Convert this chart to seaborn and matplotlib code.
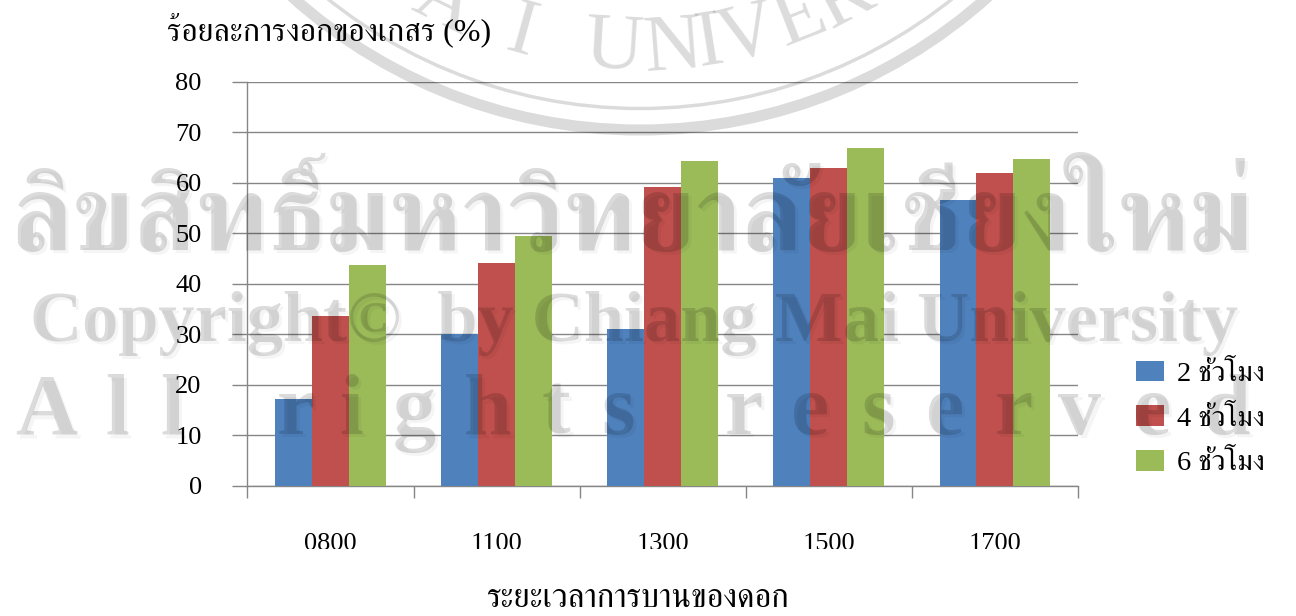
import math
import matplotlib
matplotlib.use("Agg")
import matplotlib.pyplot as plt
from matplotlib.patches import Circle
from matplotlib.transforms import Bbox
import pandas as pd
import seaborn as sns

# Germination data: percent germinated per flower-opening time and storage duration
times = ["0800", "1100", "1300", "1500", "1700"]
hours_2 = [17.2, 30.0, 31.0, 61.0, 56.6]
hours_4 = [33.6, 44.2, 59.2, 63.0, 62.0]
hours_6 = [43.8, 49.5, 64.4, 66.9, 64.8]
series_names = ["2 ชั่วโมง", "4 ชั่วโมง", "6 ชั่วโมง"]
series_colors = ["#4F81BD", "#C0504D", "#9BBB59"]
y_ticks = [0, 10, 20, 30, 40, 50, 60, 70, 80]

title_text = "ร้อยละการงอกของเกสร (%)"
xlabel_text = "ระยะเวลาการบานของดอก"
thai_mark = "ลิขสิทธิ์มหาวิทยาลัยเชียงใหม่"
copyright_mark = "Copyright©  by Chiang Mai University"

# Letters of the rights line with their horizontal centres in pixels
rights_letters = list("Allrightsreserved")
rights_x = [46, 117, 172, 296, 351, 414, 488, 556, 618, 744, 810, 878, 945, 1014, 1080, 1152, 1226]

# Seal letters with their horizontal centres in pixels
seal_letters = list("MAIUNIVERS")
seal_x = [360, 435, 516, 612, 675, 712, 752, 808, 855, 905]

FIG_W, FIG_H = 1296, 616
GRAY = "#868686"

sns.set_theme(style="white")
plt.rcParams["font.family"] = ["Liberation Serif", "FreeSerif", "DejaVu Sans"]

df = pd.DataFrame({
    "time": times * 3,
    "series": [n for n in series_names for _ in times],
    "value": hours_2 + hours_4 + hours_6,
})

fig = plt.figure(figsize=(FIG_W / 100, FIG_H / 100), dpi=100, facecolor="white")
ax = fig.add_axes([247.5 / FIG_W, (FIG_H - 485.7) / FIG_H, 830.5 / FIG_W, 403.7 / FIG_H])

sns.barplot(data=df, x="time", y="value", hue="series", order=times, hue_order=series_names,
            palette=series_colors, saturation=1, width=0.667, gap=0, linewidth=0, ax=ax, zorder=3)

ax.set_xlim(-0.5, 4.5)
ax.set_ylim(0, 80)
ax.set_xlabel("")
ax.set_ylabel("")
ax.set_yticks(y_ticks)
ax.yaxis.grid(True, color=GRAY, linewidth=1.0, zorder=0)
ax.xaxis.grid(False)
ax.set_axisbelow(True)
for side in ("top", "right"):
    ax.spines[side].set_visible(False)
for side in ("left", "bottom"):
    ax.spines[side].set_color(GRAY)
    ax.spines[side].set_linewidth(1.0)

ax.set_xticks(range(len(times)))
ax.set_xticklabels(times)
ax.set_xticks([i - 0.5 for i in range(len(times) + 1)], minor=True)
ax.tick_params(axis="x", which="major", bottom=True, length=0, pad=34, labelsize=19, labelcolor="black")
ax.tick_params(axis="x", which="minor", bottom=True, length=8.3, width=1.0, color=GRAY)
ax.tick_params(axis="y", left=True, length=11, width=1.0, color=GRAY, pad=22, labelsize=19, labelcolor="black")

# The hour labels are cut along their lower edge
label_clip = Bbox([[0, FIG_H - 549], [FIG_W, FIG_H]])
for lab in ax.get_xticklabels():
    lab.set_clip_on(True)
    lab.set_clip_box(label_clip)

fig.text(167 / FIG_W, (FIG_H - 40) / FIG_H, title_text, fontsize=23, color="black", va="baseline")
fig.text(638 / FIG_W, (FIG_H - 607) / FIG_H, xlabel_text, fontsize=23.5, color="black",
         ha="center", va="baseline")

handles = ax.get_legend_handles_labels()[0]
ax.legend(handles, series_names, loc="upper left",
          bbox_to_anchor=(1127.5 / FIG_W, (FIG_H - 352) / FIG_H), bbox_transform=fig.transFigure,
          frameon=False, fontsize=20.5, handlelength=0.98, handleheight=0.74, borderaxespad=0,
          labelspacing=0.65, handletextpad=0.46, borderpad=0.3, labelcolor="black")

# Translucent ownership marks printed over the whole chart
over = fig.add_axes([0, 0, 1, 1], zorder=10)
over.set_xlim(0, FIG_W)
over.set_ylim(FIG_H, 0)
over.axis("off")
over.patch.set_alpha(0)
INK = dict(color="black", alpha=0.14)
SHADE = dict(color="black", alpha=0.04)


def fit_width(artist, target):
    renderer = fig.canvas.get_renderer()
    width = artist.get_window_extent(renderer).width
    return artist.get_fontsize() * target / width


def banner(text, x0, x1, baseline, weight):
    probe = over.text(x0, baseline, text, fontsize=60, weight=weight, **INK)
    size = fit_width(probe, x1 - x0)
    probe.set_fontsize(size)
    over.text(x0 + 3, baseline + 3, text, fontsize=size, weight=weight, **SHADE)


banner(thai_mark, 10, 1255, 250, "bold")
banner(copyright_mark, 30, 1240, 341, "bold")

for ch, cx in zip(rights_letters, rights_x):
    over.text(cx, 434, ch, fontsize=62, weight="bold", ha="center", va="baseline", **INK)
    over.text(cx + 3, 437, ch, fontsize=62, weight="bold", ha="center", va="baseline", **SHADE)

# Seal across the top edge: two rings and letters following the curve
seal_cx, seal_cy = 640, -391
over.add_patch(Circle((seal_cx, seal_cy), 521, fill=False, lw=8, ec="black", alpha=0.14))
over.add_patch(Circle((seal_cx, seal_cy), 499.5, fill=False, lw=2.5, ec="black", alpha=0.14))
for ch, cx in zip(seal_letters, seal_x):
    angle = math.asin((cx - seal_cx) / 461)
    px = seal_cx + 461 * math.sin(angle)
    py = seal_cy + 461 * math.cos(angle)
    over.text(px, py, ch, fontsize=58, ha="center", va="baseline", color="black", alpha=0.14,
              rotation=math.degrees(angle), rotation_mode="anchor")

fig.savefig("out.png", dpi=100)
